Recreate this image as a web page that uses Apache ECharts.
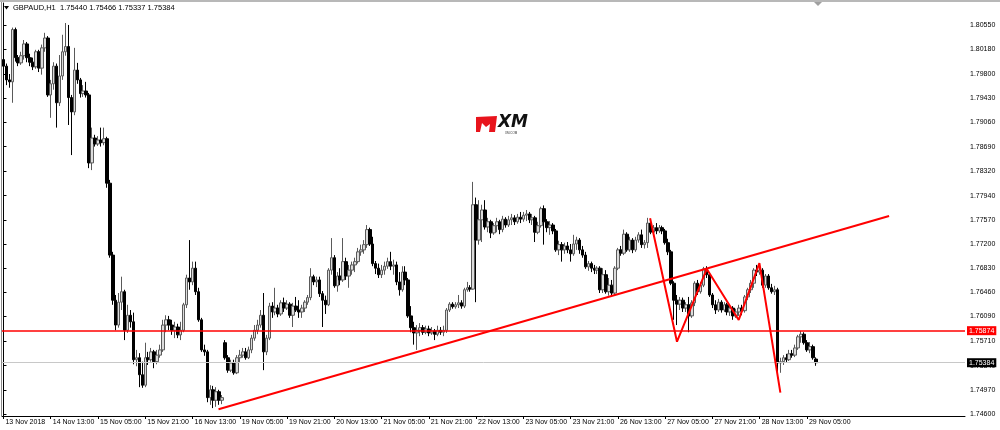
<!DOCTYPE html>
<html><head><meta charset="utf-8">
<script src="https://cdn.jsdelivr.net/npm/echarts@6/dist/echarts.min.js"></script>
<style>html,body{margin:0;padding:0;background:#fff}#c{width:1000px;height:430px}</style>
</head><body><div id="c"></div>
<script>
const symbolName = 'GBPAUD,H1';
const tickLabels = ['13 Nov 2018','14 Nov 13:00','15 Nov 05:00','15 Nov 21:00','16 Nov 13:00','19 Nov 05:00','19 Nov 21:00','20 Nov 13:00','21 Nov 05:00','21 Nov 21:00','22 Nov 13:00','23 Nov 05:00','23 Nov 21:00','26 Nov 13:00','27 Nov 05:00','27 Nov 21:00','28 Nov 13:00','29 Nov 05:00'];
const yTicks = [1.74600,1.74970,1.75340,1.75710,1.76090,1.76460,1.76830,1.77200,1.77570,1.77940,1.78320,1.78690,1.79060,1.79430,1.79800,1.80180,1.80550];

const opens = [
1.8002,1.7992,1.7971,1.7968,1.8048,1.8005,1.7997,1.8008,1.8026,1.8005,
1.7998,1.7991,1.8014,1.7989,1.8020,1.8035,1.7948,1.7965,1.7992,1.7936,
1.7977,1.8014,1.8022,1.7944,1.7922,1.7986,1.7971,1.7950,1.7954,1.7948,
1.7844,1.7882,1.7873,1.7879,1.7875,1.7881,1.7813,1.7703,1.7634,1.7596,
1.7631,1.7647,1.7588,1.7611,1.7601,1.7543,1.7546,1.7520,1.7504,1.7546,
1.7543,1.7555,1.7540,1.7550,1.7558,1.7596,1.7604,1.7596,1.7588,1.7593,
1.7581,1.7588,1.7627,1.7668,1.7662,1.7683,1.7647,1.7604,1.7558,1.7555,
1.7485,1.7497,1.7481,1.7494,1.7481,1.7569,1.7546,1.7527,1.7538,1.7523,
1.7546,1.7550,1.7555,1.7546,1.7558,1.7576,1.7588,1.7596,1.7611,1.7555,
1.7576,1.7625,1.7616,1.7622,1.7613,1.7630,1.7622,1.7628,1.7611,1.7625,
1.7619,1.7616,1.7622,1.7631,1.7638,1.7670,1.7662,1.7665,1.7644,1.7634,
1.7627,1.7680,1.7699,1.7656,1.7671,1.7665,1.7693,1.7671,1.7680,1.7688,
1.7693,1.7708,1.7711,1.7719,1.7742,1.7720,1.7690,1.7683,1.7673,1.7680,
1.7686,1.7693,1.7686,1.7688,1.7662,1.7650,1.7677,1.7665,1.7610,1.7592,
1.7584,1.7588,1.7592,1.7585,1.7590,1.7584,1.7587,1.7582,1.7588,1.7585,
1.7588,1.7619,1.7628,1.7624,1.7627,1.7630,1.7625,1.7650,1.7653,1.7651,
1.7780,1.7726,1.7757,1.7772,1.7746,1.7754,1.7737,1.7748,1.7754,1.7742,
1.7758,1.7749,1.7757,1.7760,1.7754,1.7761,1.7758,1.7764,1.7766,1.7757,
1.7760,1.7738,1.7748,1.7774,1.7754,1.7745,1.7749,1.7740,1.7711,1.7719,
1.7711,1.7717,1.7711,1.7705,1.7720,1.7726,1.7711,1.7703,1.7685,1.7690,
1.7683,1.7680,1.7683,1.7650,1.7673,1.7647,1.7657,1.7645,1.7683,1.7711,
1.7706,1.7735,1.7711,1.7726,1.7711,1.7726,1.7734,1.7719,1.7722,1.7752,
1.7738,1.7745,1.7740,1.7745,1.7740,1.7722,1.7708,1.7660,1.7634,1.7628,
1.7634,1.7622,1.7627,1.7610,1.7630,1.7660,1.7647,1.7657,1.7682,1.7673,
1.7642,1.7627,1.7619,1.7631,1.7619,1.7627,1.7616,1.7622,1.7610,1.7616,
1.7622,1.7618,1.7639,1.7650,1.7660,1.7680,1.7677,1.7680,1.7657,1.7671,
1.7653,1.7647,1.7650,1.7538,1.7540,1.7546,1.7543,1.7552,1.7550,1.7561,
1.7578,1.7582,1.7569,1.7558,1.7563,1.75440];

const highs = [
1.8006,1.7996,1.7980,1.8051,1.8051,1.8009,1.8014,1.8032,1.8029,1.8011,
1.8005,1.8017,1.8017,1.8025,1.8043,1.8038,1.7971,1.7998,1.7996,1.8009,
1.8040,1.8058,1.8055,1.7948,1.8020,1.7997,1.7974,1.7963,1.7968,1.7951,
1.7898,1.7887,1.7885,1.7898,1.7898,1.7884,1.7818,1.7708,1.7642,1.7645,
1.7670,1.7650,1.7627,1.7619,1.7615,1.7558,1.7553,1.7540,1.7569,1.7555,
1.7561,1.7558,1.7558,1.7566,1.7604,1.7611,1.7610,1.7604,1.7601,1.7598,
1.7601,1.7630,1.7673,1.7726,1.7693,1.7693,1.7653,1.7607,1.7566,1.7558,
1.7504,1.7503,1.7501,1.7497,1.7489,1.7573,1.7550,1.7543,1.7543,1.7550,
1.7558,1.7561,1.7561,1.7563,1.7581,1.7596,1.7604,1.7619,1.7645,1.7581,
1.7630,1.7631,1.7653,1.7627,1.7634,1.7638,1.7634,1.7631,1.7630,1.7639,
1.7634,1.7627,1.7634,1.7642,1.7683,1.7673,1.7670,1.7670,1.7648,1.7641,
1.7683,1.7729,1.7703,1.7677,1.7683,1.7729,1.7699,1.7688,1.7693,1.7699,
1.7714,1.7719,1.7726,1.7749,1.7745,1.7731,1.7694,1.7690,1.7688,1.7693,
1.7699,1.7708,1.7696,1.7693,1.7677,1.7686,1.7686,1.7668,1.7625,1.7601,
1.7596,1.7599,1.7596,1.7595,1.7595,1.7593,1.7590,1.7595,1.7593,1.7595,
1.7622,1.7631,1.7631,1.7631,1.7642,1.7634,1.7653,1.7662,1.7657,1.7815,
1.7791,1.7787,1.7780,1.7787,1.7760,1.7757,1.7752,1.7760,1.7757,1.7763,
1.7761,1.7763,1.7766,1.7764,1.7766,1.7769,1.7769,1.7772,1.7769,1.7766,
1.7763,1.7754,1.7777,1.7779,1.7758,1.7755,1.7752,1.7743,1.7725,1.7723,
1.7722,1.7723,1.7720,1.7734,1.7731,1.7729,1.7717,1.7708,1.7694,1.7693,
1.7688,1.7686,1.7686,1.7683,1.7680,1.7668,1.7665,1.7686,1.7714,1.7717,
1.7742,1.7738,1.7731,1.7729,1.7731,1.7738,1.7742,1.7726,1.7760,1.7755,
1.7749,1.7752,1.7749,1.7748,1.7743,1.7728,1.7711,1.7663,1.7642,1.7639,
1.7638,1.7631,1.7639,1.7634,1.7663,1.7665,1.7662,1.7685,1.7686,1.7677,
1.7645,1.7634,1.7636,1.7634,1.7631,1.7630,1.7627,1.7625,1.7621,1.7627,
1.7627,1.7642,1.7653,1.7665,1.7683,1.7688,1.7685,1.7683,1.7674,1.7674,
1.7659,1.7656,1.7653,1.7546,1.7550,1.7552,1.7558,1.7558,1.7566,1.7581,
1.7587,1.7585,1.7573,1.7570,1.7566,1.75466];

const lows = [
1.7983,1.7963,1.7959,1.7936,1.7999,1.7992,1.7994,1.8002,1.7998,1.7992,
1.7986,1.7988,1.7983,1.7979,1.8014,1.7945,1.7913,1.7956,1.7898,1.7931,
1.7971,1.8008,1.7902,1.7856,1.7917,1.7965,1.7944,1.7945,1.7944,1.7836,
1.7833,1.7869,1.7870,1.7869,1.7871,1.7806,1.7699,1.7627,1.7588,1.7592,
1.7619,1.7573,1.7584,1.7592,1.7536,1.7533,1.7501,1.7500,1.7501,1.7535,
1.7540,1.7530,1.7536,1.7546,1.7555,1.7585,1.7588,1.7581,1.7576,1.7576,
1.7573,1.7585,1.7622,1.7650,1.7657,1.7642,1.7601,1.7555,1.7549,1.7478,
1.7474,1.7469,1.7471,1.7474,1.7475,1.7543,1.7523,1.7524,1.7520,1.7521,
1.7538,1.7546,1.7543,1.7544,1.7553,1.7572,1.7582,1.7592,1.7527,1.7550,
1.7573,1.7607,1.7611,1.7608,1.7610,1.7616,1.7619,1.7607,1.7593,1.7616,
1.7607,1.7607,1.7616,1.7627,1.7634,1.7657,1.7654,1.7639,1.7593,1.7613,
1.7625,1.7673,1.7653,1.7647,1.7657,1.7662,1.7665,1.7653,1.7673,1.7677,
1.7690,1.7702,1.7705,1.7714,1.7717,1.7686,1.7674,1.7668,1.7668,1.7673,
1.7682,1.7680,1.7673,1.7657,1.7641,1.7647,1.7657,1.7607,1.7585,1.7566,
1.7558,1.7579,1.7581,1.7582,1.7579,1.7581,1.7573,1.7579,1.7581,1.7579,
1.7584,1.7616,1.7621,1.7621,1.7622,1.7621,1.7622,1.7647,1.7647,1.7650,
1.7631,1.7719,1.7723,1.7742,1.7738,1.7729,1.7734,1.7738,1.7735,1.7738,
1.7745,1.7746,1.7749,1.7749,1.7751,1.7752,1.7754,1.7755,1.7752,1.7749,
1.7723,1.7735,1.7745,1.7719,1.7738,1.7734,1.7735,1.7708,1.7703,1.7693,
1.7705,1.7706,1.7693,1.7702,1.7711,1.7705,1.7699,1.7682,1.7679,1.7677,
1.7674,1.7674,1.7645,1.7645,1.7644,1.7641,1.7641,1.7641,1.7680,1.7702,
1.7703,1.7708,1.7708,1.7706,1.7708,1.7722,1.7714,1.7713,1.7714,1.7735,
1.7735,1.7735,1.7737,1.7735,1.7719,1.7703,1.7657,1.7604,1.7596,1.7619,
1.7616,1.7616,1.7585,1.7607,1.7625,1.7642,1.7644,1.7654,1.7668,1.7639,
1.7622,1.7613,1.7616,1.7615,1.7616,1.7611,1.7610,1.7604,1.7607,1.7610,
1.7611,1.7615,1.7634,1.7645,1.7653,1.7671,1.7673,1.7653,1.7653,1.7650,
1.7644,1.7642,1.7523,1.7523,1.7535,1.7538,1.7541,1.7546,1.7547,1.7558,
1.7569,1.7566,1.7555,1.7553,1.7543,1.75337];

const closes = [
1.7992,1.7971,1.7968,1.8048,1.8005,1.7997,1.8008,1.8026,1.8005,1.7998,
1.7991,1.8014,1.7989,1.8020,1.8035,1.7948,1.7965,1.7992,1.7936,1.7977,
1.8014,1.8022,1.7944,1.7922,1.7986,1.7971,1.7950,1.7954,1.7948,1.7844,
1.7882,1.7873,1.7879,1.7875,1.7881,1.7813,1.7703,1.7634,1.7596,1.7631,
1.7647,1.7588,1.7611,1.7601,1.7543,1.7546,1.7520,1.7504,1.7546,1.7543,
1.7555,1.7540,1.7550,1.7558,1.7596,1.7604,1.7596,1.7588,1.7593,1.7581,
1.7588,1.7627,1.7668,1.7662,1.7683,1.7647,1.7604,1.7558,1.7555,1.7485,
1.7497,1.7481,1.7494,1.7481,1.7485,1.7546,1.7527,1.7538,1.7523,1.7546,
1.7550,1.7555,1.7546,1.7558,1.7576,1.7588,1.7596,1.7611,1.7555,1.7576,
1.7625,1.7616,1.7622,1.7613,1.7630,1.7622,1.7628,1.7611,1.7625,1.7619,
1.7616,1.7622,1.7631,1.7638,1.7670,1.7662,1.7665,1.7644,1.7634,1.7627,
1.7680,1.7699,1.7656,1.7671,1.7665,1.7693,1.7671,1.7680,1.7688,1.7693,
1.7708,1.7711,1.7719,1.7742,1.7720,1.7690,1.7683,1.7673,1.7680,1.7686,
1.7693,1.7686,1.7688,1.7662,1.7650,1.7677,1.7665,1.7610,1.7592,1.7584,
1.7588,1.7592,1.7585,1.7590,1.7584,1.7587,1.7582,1.7588,1.7585,1.7588,
1.7619,1.7628,1.7624,1.7627,1.7630,1.7625,1.7650,1.7653,1.7651,1.7780,
1.7726,1.7757,1.7772,1.7746,1.7754,1.7737,1.7748,1.7754,1.7742,1.7758,
1.7749,1.7757,1.7760,1.7754,1.7761,1.7758,1.7764,1.7766,1.7757,1.7760,
1.7738,1.7748,1.7774,1.7754,1.7745,1.7749,1.7740,1.7711,1.7719,1.7711,
1.7717,1.7711,1.7705,1.7720,1.7726,1.7711,1.7703,1.7685,1.7690,1.7683,
1.7680,1.7683,1.7650,1.7673,1.7647,1.7657,1.7645,1.7683,1.7711,1.7706,
1.7735,1.7711,1.7726,1.7711,1.7726,1.7734,1.7719,1.7722,1.7752,1.7738,
1.7745,1.7740,1.7745,1.7740,1.7722,1.7708,1.7660,1.7634,1.7628,1.7634,
1.7622,1.7627,1.7610,1.7630,1.7660,1.7647,1.7657,1.7682,1.7673,1.7642,
1.7627,1.7619,1.7631,1.7619,1.7627,1.7616,1.7622,1.7610,1.7616,1.7622,
1.7618,1.7639,1.7650,1.7660,1.7680,1.7677,1.7680,1.7657,1.7671,1.7653,
1.7647,1.7650,1.7538,1.7540,1.7546,1.7543,1.7552,1.7550,1.7561,1.7578,
1.7582,1.7569,1.7558,1.7563,1.7546,1.75384];

const levelLine = 1.75874;
const bidLine = 1.75384;
// [bar position, price]
const trendLine = [[72.8, 1.74672], [299.8, 1.77629]];
const headShoulders = [[218.9, 1.77594], [228.0, 1.75706], [238.1, 1.76818], [248.9, 1.76038], [255.9, 1.76906], [263.0, 1.74926]];

const SLOTS = 326;
const LABEL_STEP = 16;
const isTick = i => i % LABEL_STEP === 0 && i / LABEL_STEP < tickLabels.length;
const cats = [];
for (let i = 0; i < SLOTS; i++) cats.push(isTick(i) ? tickLabels[i / LABEL_STEP] : '');
const ohlc = opens.map((o, i) => [o, closes[i], lows[i], highs[i]]);
const last = ohlc.length - 1;
const titleText = symbolName + '  ' + [opens[last], highs[last], lows[last], closes[last]].map(v => v.toFixed(5)).join(' ');

const FONT = 'Liberation Sans';
const chart = echarts.init(document.getElementById('c'), null, {renderer: 'canvas'});
chart.setOption({
  animation: false,
  backgroundColor: '#ffffff',
  grid: {left: 2, right: 35, top: 3, bottom: 14, containLabel: false},
  xAxis: [{
    type: 'category', data: cats, boundaryGap: true,
    axisLine: {show: true, lineStyle: {color: '#000', width: 1}},
    axisTick: {show: true, interval: i => isTick(i), alignWithLabel: true, length: 3, lineStyle: {color: '#000'}},
    axisLabel: {show: true, interval: i => isTick(i), align: 'left', margin: 3, padding: [0, 0, 0, 2],
      fontSize: 7, fontFamily: FONT, color: '#000', hideOverlap: false},
    splitLine: {show: false}
  }, {
    type: 'value', min: -0.5, max: SLOTS - 0.5, show: false
  }],
  yAxis: {
    type: 'value', position: 'right', min: 1.74569, max: 1.80886,
    axisLine: {show: true, lineStyle: {color: '#000', width: 1}},
    axisTick: {show: true, customValues: yTicks, length: 3, lineStyle: {color: '#000'}},
    axisLabel: {show: true, customValues: yTicks, formatter: v => v.toFixed(5), margin: 5,
      fontSize: 7, fontFamily: FONT, color: '#000'},
    splitLine: {show: false}
  },
  series: [{
    type: 'candlestick', data: ohlc, barWidth: 3,
    itemStyle: {color: '#dcdcdc', color0: '#000000', borderColor: '#5a5a5a', borderColor0: '#000000', borderWidth: 1},
    markLine: {
      silent: true, symbol: ['none', 'none'], animation: false, precision: 5,
      data: [
        {yAxis: bidLine, lineStyle: {color: '#c8c8c8', width: 1, type: 'solid'},
         label: {show: true, position: 'end', distance: 2, formatter: p => Number(p.value).toFixed(5),
           backgroundColor: '#000', color: '#fff', padding: [1, 2, 1, 2], fontSize: 7, fontFamily: FONT}},
        {yAxis: levelLine, lineStyle: {color: '#ff0000', width: 1.5, type: 'solid'},
         label: {show: true, position: 'end', distance: 2, formatter: p => Number(p.value).toFixed(5),
           backgroundColor: '#ff0000', color: '#fff', padding: [1, 2, 1, 2], fontSize: 7, fontFamily: FONT}}
      ]
    },
    z: 2
  }, {
    type: 'line', xAxisIndex: 1, yAxisIndex: 0, data: trendLine, showSymbol: false, symbol: 'none',
    lineStyle: {color: '#ff0000', width: 2}, silent: true, z: 5
  }, {
    type: 'line', xAxisIndex: 1, yAxisIndex: 0, data: headShoulders, showSymbol: false, symbol: 'none',
    lineStyle: {color: '#ff0000', width: 2}, silent: true, z: 5
  }],
  graphic: [
    {type: 'rect', shape: {x: 0, y: 0, width: 1000, height: 2}, style: {fill: '#b8b8b8'}, silent: true},
    {type: 'polygon', shape: {points: [[814, 2], [822, 2], [818, 6]]}, style: {fill: '#a0a0a0'}, silent: true},
    {type: 'line', shape: {x1: 1.5, y1: 2, x2: 1.5, y2: 416}, style: {stroke: '#8a8a8a', lineWidth: 1}, silent: true},
    {type: 'polygon', shape: {points: [[4, 6], [9, 6], [6.5, 9.5]]}, style: {fill: '#000'}, silent: true},
    {type: 'text', left: 13, top: 4, style: {text: titleText, fontSize: 7.5, fontFamily: FONT, fill: '#000'}, silent: true},
    {type: 'group', left: 476, top: 114, silent: true, children: [
      {type: 'polygon', shape: {points: [[0, 2], [21, 1], [19, 17], [13, 17], [14, 9], [10, 12], [6, 8], [4, 17], [0, 17]]}, style: {fill: '#e8141c'}},
      {type: 'text', x: 22, y: -1, style: {text: 'XM', fontSize: 17, fontWeight: 'bold', fontStyle: 'italic', fontFamily: 'DejaVu Sans', fill: '#111'}},
      {type: 'text', x: 29, y: 17, style: {text: 'XM.COM', fontSize: 3, fontFamily: FONT, fill: '#333'}}
    ]}
  ]
});
</script>
</body></html>
